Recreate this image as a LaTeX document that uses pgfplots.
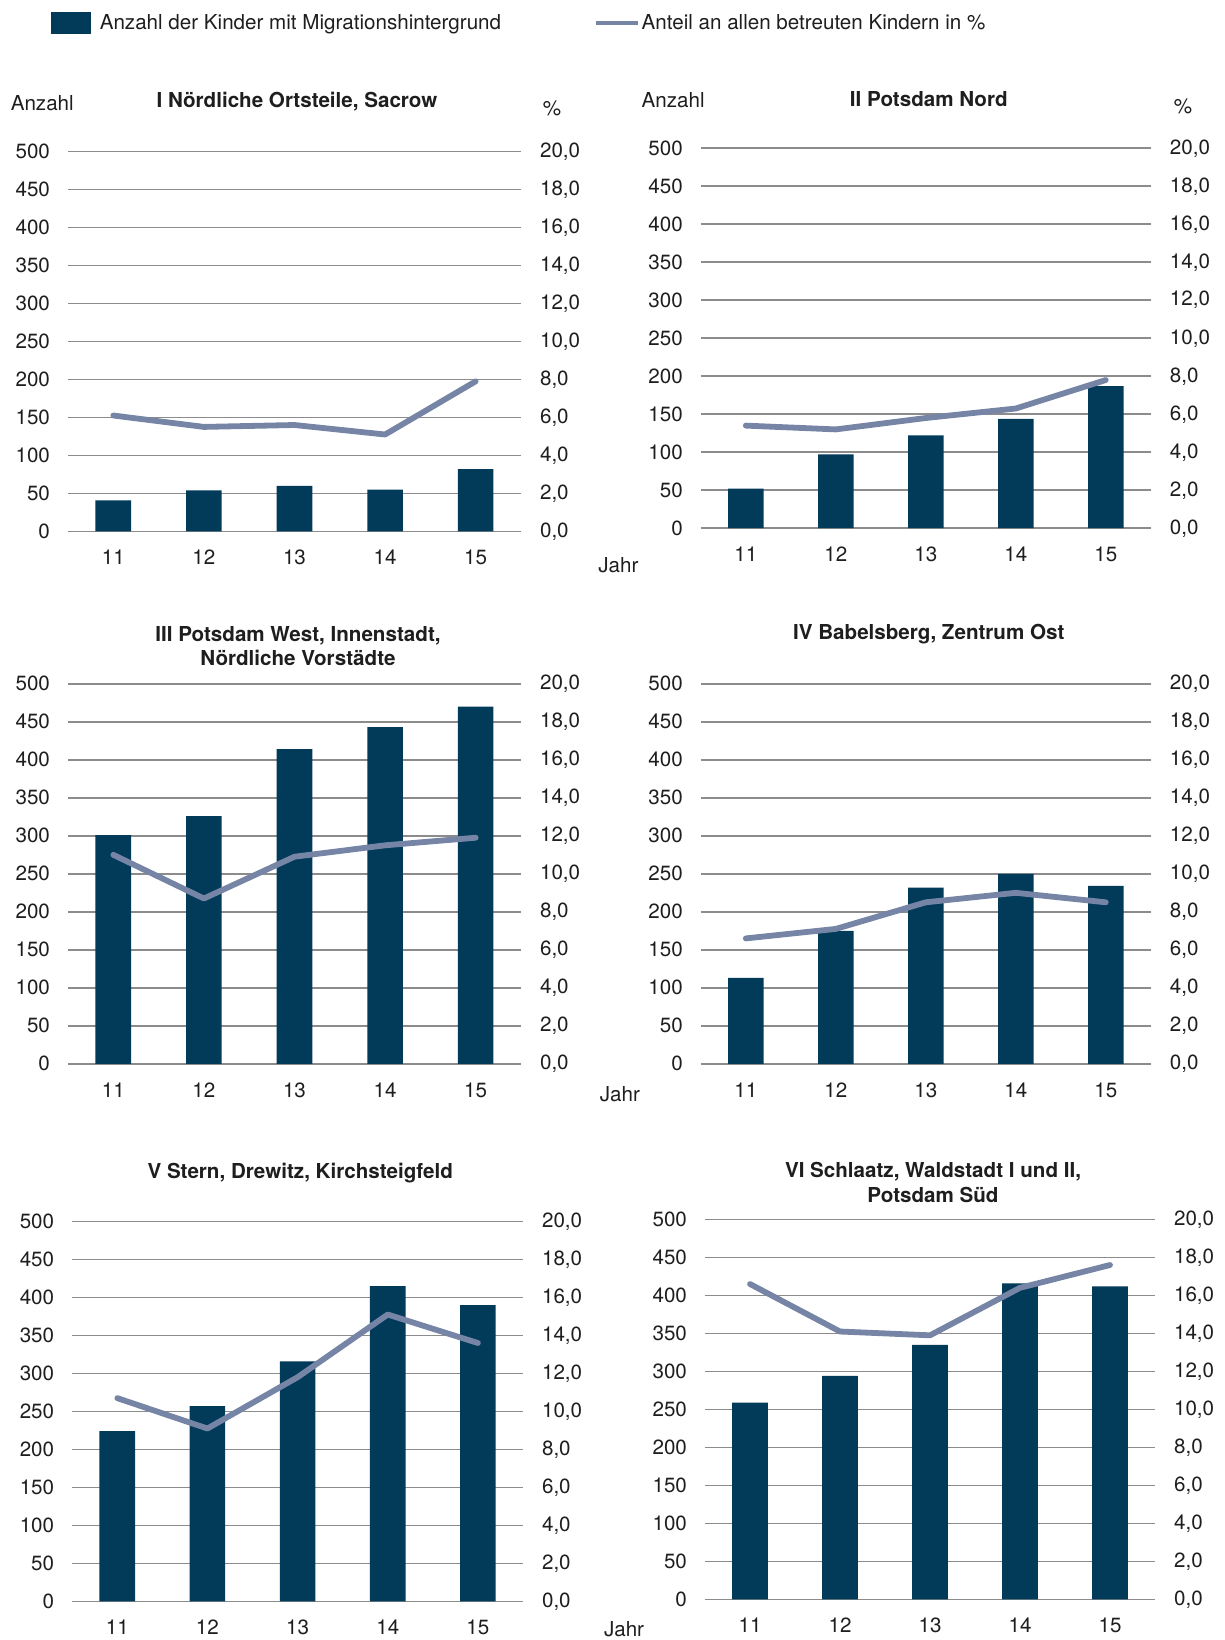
\documentclass[border=0pt]{standalone}
\usepackage{pgfplots}
\pgfplotsset{compat=1.18}
\usepackage{fontspec}
\setmainfont{TeX Gyre Heros}
\definecolor{navy}{RGB}{2,58,89}
\definecolor{linec}{RGB}{118,133,166}
\definecolor{gridc}{RGB}{140,140,140}
\definecolor{txt}{RGB}{30,30,30}
\newcommand{\fs}{\fontsize{10.3}{12.4}\selectfont}
\pgfplotsset{
  base/.style={scale only axis, width=226pt, height=190pt, xmin=-0.5, xmax=4.5, ymin=0, clip=false,
    major tick length=0pt, axis line style={draw=none},
    tick label style={font=\fs, text=txt},
    /pgf/number format/assume math mode=true},
  lefta/.style={base, ymax=500, ytick={0,50,...,500}, ymajorgrids,
    grid style={gridc, line width=0.9pt},
    xtick={0,1,2,3,4}, xticklabels={11,12,13,14,15},
    yticklabel style={anchor=east, xshift=-5.5pt},
    xticklabel style={anchor=north, yshift=-5.8pt}},
  righta/.style={base, ymax=20, ytick={0,2,...,20}, axis y line*=right, hide x axis,
    yticklabel style={/pgf/number format/fixed, /pgf/number format/fixed zerofill,
      /pgf/number format/precision=1, /pgf/number format/use comma, anchor=west, xshift=6pt}},
  barp/.style={ybar, bar width=17.8pt, fill=navy, draw=none},
  linep/.style={color=linec, line width=2.9pt, line cap=round, line join=round, mark=none}
}
\begin{document}
\begin{tikzpicture}
\useasboundingbox (0pt,0pt) rectangle (612.4pt,-820pt);
% ---------- Panel I ----------
\begin{axis}[lefta, at={(34pt,-265.7pt)}, anchor=south west, width=226.5pt,
  legend style={at={(rel axis cs:-0.038,1.373)}, anchor=north west, draw=none, fill=none,
    legend columns=2, font=\fs, text=txt, inner sep=0pt,
    nodes={inner xsep=4.5pt},
    /tikz/every even column/.append style={column sep=42pt}}]
\addplot[barp, legend image code/.code={\fill[navy] (0pt,-5.6pt) rectangle (19.8pt,5.6pt);}]
  coordinates {(0,41) (1,54) (2,60) (3,55) (4,82)};
\addlegendentry{Anzahl der Kinder mit Migrationshintergrund}
\addlegendimage{legend image code/.code={\draw[linec, line width=2.3pt] (0pt,0pt) -- (17pt,0pt);
  \draw[linec, line width=2.3pt, overlay] (17pt,0pt) -- (21pt,0pt);}}
\addlegendentry{Anteil an allen betreuten Kindern in \%}
\end{axis}
\begin{axis}[righta, at={(34pt,-265.7pt)}, anchor=south west, width=226.5pt]
\addplot[linep] coordinates {(0,6.1) (1,5.5) (2,5.6) (3,5.1) (4,7.9)};
\end{axis}
% ---------- Panel II ----------
\begin{axis}[lefta, at={(350.4pt,-264.1pt)}, anchor=south west, width=225pt]
\addplot[barp] coordinates {(0,52) (1,97) (2,122) (3,144) (4,187)};
\end{axis}
\begin{axis}[righta, at={(350.4pt,-264.1pt)}, anchor=south west, width=225pt]
\addplot[linep] coordinates {(0,5.4) (1,5.2) (2,5.8) (3,6.3) (4,7.8)};
\end{axis}
% ---------- Panel III ----------
\begin{axis}[lefta, at={(34pt,-531.9pt)}, anchor=south west, width=226.5pt]
\addplot[barp] coordinates {(0,301) (1,326) (2,414) (3,443) (4,470)};
\end{axis}
\begin{axis}[righta, at={(34pt,-531.9pt)}, anchor=south west, width=226.5pt]
\addplot[linep] coordinates {(0,11.0) (1,8.7) (2,10.9) (3,11.5) (4,11.9)};
\end{axis}
% ---------- Panel IV ----------
\begin{axis}[lefta, at={(350.4pt,-531.9pt)}, anchor=south west, width=225pt]
\addplot[barp] coordinates {(0,113) (1,175) (2,232) (3,250) (4,234)};
\end{axis}
\begin{axis}[righta, at={(350.4pt,-531.9pt)}, anchor=south west, width=225pt]
\addplot[linep] coordinates {(0,6.6) (1,7.1) (2,8.5) (3,9.0) (4,8.5)};
\end{axis}
% ---------- Panel V ----------
\begin{axis}[lefta, at={(36.1pt,-800.7pt)}, anchor=south west, width=225.4pt]
\addplot[barp] coordinates {(0,224) (1,257) (2,316) (3,415) (4,390)};
\end{axis}
\begin{axis}[righta, at={(36.1pt,-800.7pt)}, anchor=south west, width=225.4pt]
\addplot[linep] coordinates {(0,10.7) (1,9.1) (2,11.8) (3,15.1) (4,13.6)};
\end{axis}
% ---------- Panel VI ----------
\begin{axis}[lefta, at={(352.5pt,-799.7pt)}, anchor=south west, width=225pt]
\addplot[barp] coordinates {(0,259) (1,294) (2,335) (3,416) (4,412)};
\end{axis}
\begin{axis}[righta, at={(352.5pt,-799.7pt)}, anchor=south west, width=225pt]
\addplot[linep] coordinates {(0,16.6) (1,14.1) (2,13.9) (3,16.4) (4,17.6)};
\end{axis}
% ---------- texts ----------
\begin{scope}[every node/.style={font=\fs, text=txt, inner sep=0pt}]
\node[font=\fs\bfseries] at (148.5pt,-50.7pt) {I Nördliche Ortsteile, Sacrow};
\node[font=\fs\bfseries] at (464.4pt,-49.7pt) {II Potsdam Nord};
\node[font=\fs\bfseries, align=center] at (149pt,-323pt) {III Potsdam West, Innenstadt,\\Nördliche Vorstädte};
\node[font=\fs\bfseries] at (464.4pt,-316.9pt) {IV Babelsberg, Zentrum Ost};
\node[font=\fs\bfseries] at (150.1pt,-586.3pt) {V Stern, Drewitz, Kirchsteigfeld};
\node[font=\fs\bfseries, align=center] at (466.5pt,-591.2pt) {VI Schlaatz, Waldstadt I und II,\\Potsdam Süd};
\node[anchor=west] at (5.2pt,-51.8pt) {Anzahl};
\node at (276pt,-54.4pt) {\%};
\node[anchor=west] at (320.6pt,-50.2pt) {Anzahl};
\node at (591.5pt,-53.3pt) {\%};
\node[anchor=west] at (299pt,-282.4pt) {Jahr};
\node[anchor=west] at (299.7pt,-547pt) {Jahr};
\node[anchor=west] at (301.8pt,-814.8pt) {Jahr};
\end{scope}
\end{tikzpicture}
\end{document}
